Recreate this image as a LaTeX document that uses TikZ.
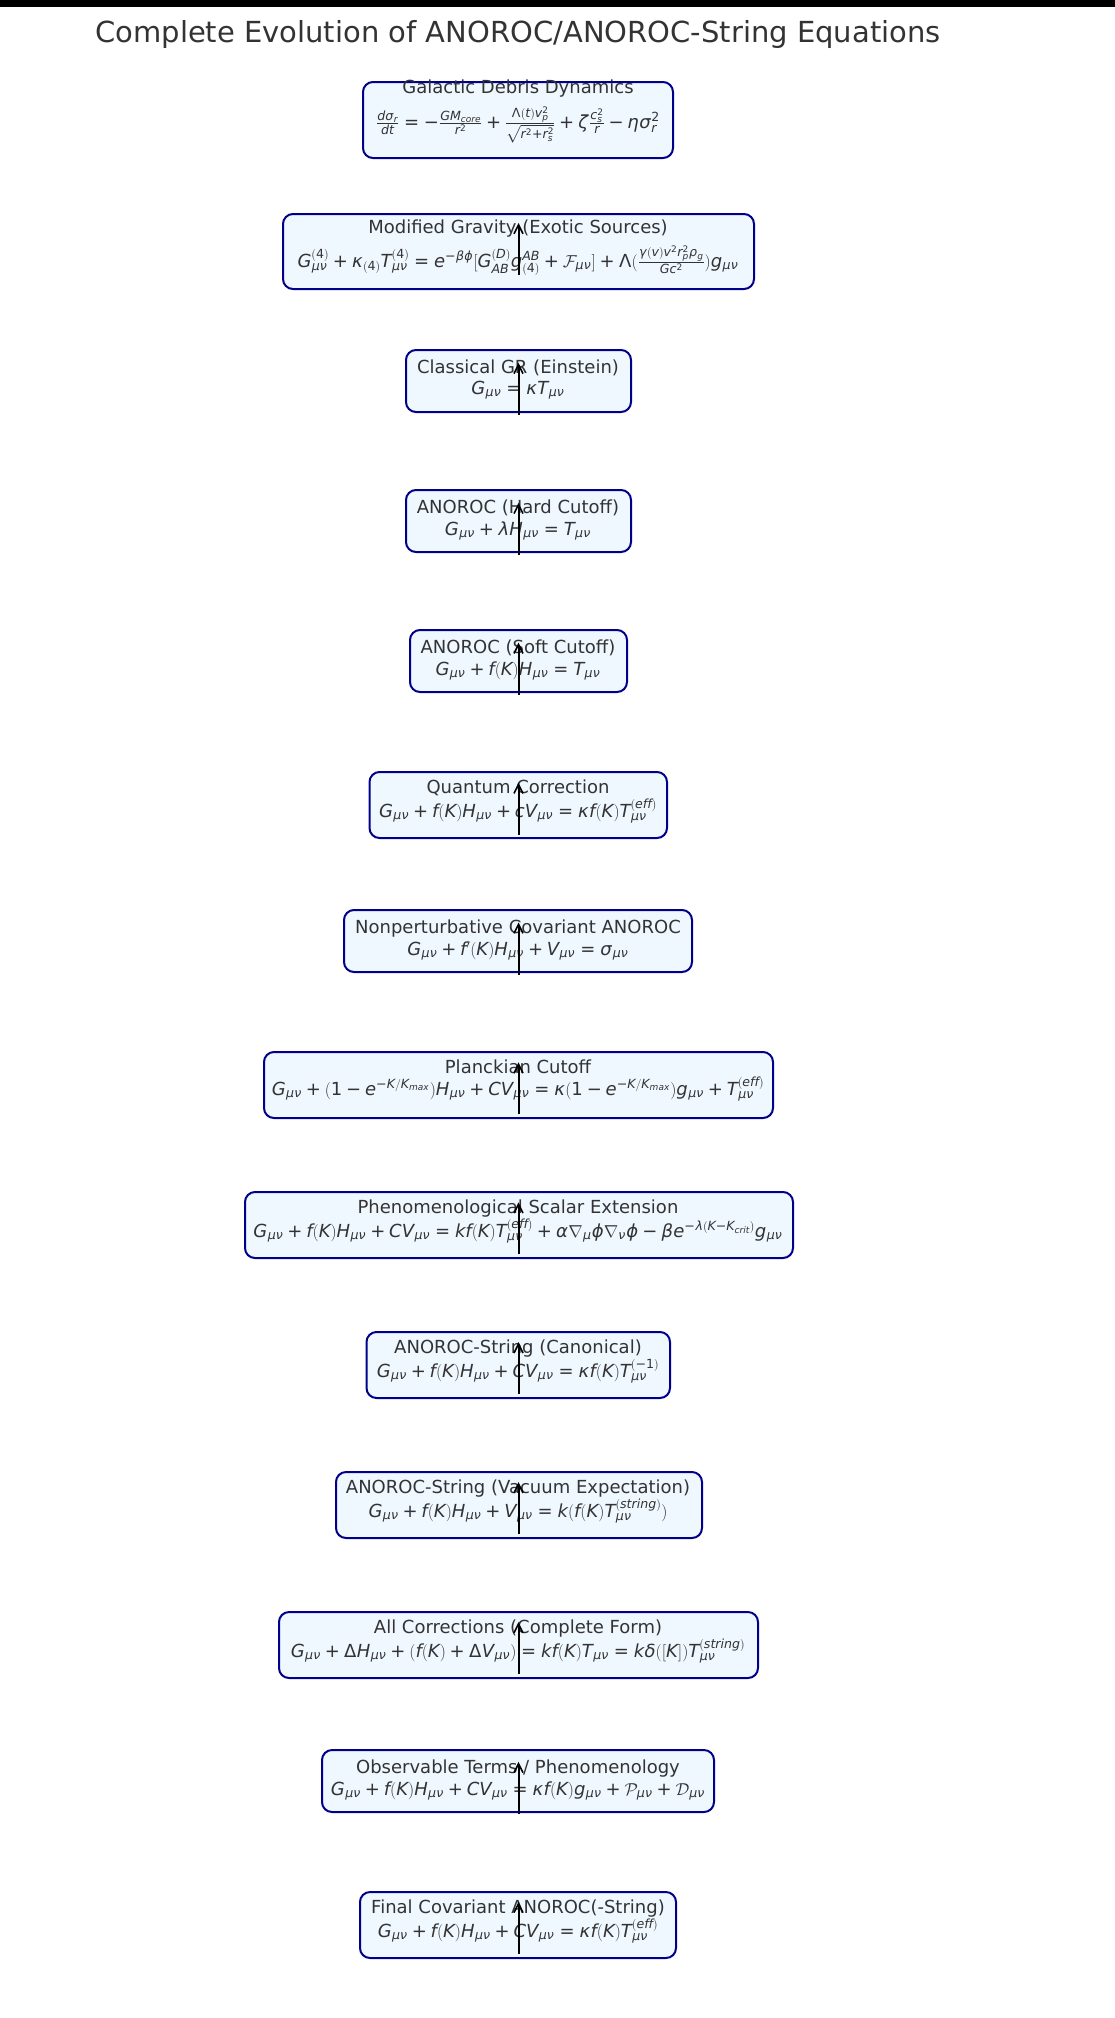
\documentclass[tikz,border=0pt]{standalone}
\usepackage{amsmath}
\usepackage{mathspec}
\setmainfont{DejaVu Sans}
\setmathsfont(Digits,Latin,Greek,Symbols){DejaVu Sans}
\usetikzlibrary{arrows.meta}

% operators in formulas taken from the sans text font
\begingroup
\lccode`\~=`\+ \lowercase{\endgroup\def~{\mathbin{\text{+}}}}
\begingroup
\lccode`\~=`\= \lowercase{\endgroup\def~{\mathrel{\text{=}}}}
\begingroup
\lccode`\~=`\- \lowercase{\endgroup\def~{\mathbin{\text{−}}}}
\AtBeginDocument{\mathcode`\+="8000 \mathcode`\=="8000 \mathcode`\-="8000 }

\definecolor{boxfill}{HTML}{F0F8FF}
\definecolor{boxline}{HTML}{00008B}
\definecolor{ink}{HTML}{333333}

\tikzset{
  eqbox/.style={draw=boxline, fill=boxfill, line width=2pt, rounded corners=10pt, inner sep=0pt},
  stagetitle/.style={anchor=base, text=ink, inner sep=0pt, font=\fontsize{18}{22}\selectfont},
  stageeq/.style={stagetitle},
  flow/.style={-{Straight Barb[length=9pt,width=9pt,line width=1.6pt]}, line width=2pt, black}
}

\begin{document}
\begin{tikzpicture}[x=1pt, y=-1pt]
\useasboundingbox (0,0) rectangle (1115,2018);
\fill[black] (0,0) rectangle (1115,7);

\node[anchor=base, text=ink, inner sep=0pt, font=\fontsize{29}{35}\selectfont] (heading) at (518,43)
  {Complete Evolution of ANOROC/ANOROC-String Equations};

% stage boxes, top to bottom
\node[eqbox, minimum width=310pt,   minimum height=76pt] (b1)  at (518,120)    {};
\node[eqbox, minimum width=471pt,   minimum height=75pt] (b2)  at (518.5,251.5) {};
\node[eqbox, minimum width=225pt,   minimum height=62pt] (b3)  at (518.5,381)  {};
\node[eqbox, minimum width=225pt,   minimum height=62pt] (b4)  at (518.5,521)  {};
\node[eqbox, minimum width=217pt,   minimum height=62pt] (b5)  at (518.5,661)  {};
\node[eqbox, minimum width=297.5pt, minimum height=66pt] (b6)  at (518.25,805) {};
\node[eqbox, minimum width=348pt,   minimum height=62pt] (b7)  at (518,941)    {};
\node[eqbox, minimum width=509pt,   minimum height=66pt] (b8)  at (518.5,1085) {};
\node[eqbox, minimum width=548pt,   minimum height=66pt] (b9)  at (519,1225)   {};
\node[eqbox, minimum width=303.5pt, minimum height=66pt] (b10) at (518.25,1365) {};
\node[eqbox, minimum width=366pt,   minimum height=66pt] (b11) at (519,1505)   {};
\node[eqbox, minimum width=479pt,   minimum height=66pt] (b12) at (518.5,1645) {};
\node[eqbox, minimum width=392pt,   minimum height=62pt] (b13) at (518,1781)   {};
\node[eqbox, minimum width=316pt,   minimum height=66pt] (b14) at (518,1925)   {};

% titles
\node[stagetitle] (t1)  at (518,93)   {Galactic Debris Dynamics};
\node[stagetitle] (t2)  at (518,233)  {Modified Gravity (Exotic Sources)};
\node[stagetitle] (t3)  at (518,373)  {Classical GR (Einstein)};
\node[stagetitle] (t4)  at (518,513)  {ANOROC (Hard Cutoff)};
\node[stagetitle] (t5)  at (518,653)  {ANOROC (Soft Cutoff)};
\node[stagetitle] (t6)  at (518,793)  {Quantum Correction};
\node[stagetitle] (t7)  at (518,933)  {Nonperturbative Covariant ANOROC};
\node[stagetitle] (t8)  at (518,1073) {Planckian Cutoff};
\node[stagetitle] (t9)  at (518,1213) {Phenomenological Scalar Extension};
\node[stagetitle] (t10) at (518,1353) {ANOROC-String (Canonical)};
\node[stagetitle] (t11) at (518,1493) {ANOROC-String (Vacuum Expectation)};
\node[stagetitle] (t12) at (518,1633) {All Corrections (Complete Form)};
\node[stagetitle] (t13) at (518,1773) {Observable Terms / Phenomenology};
\node[stagetitle] (t14) at (518,1913) {Final Covariant ANOROC(-String)};

% equations
\node[stageeq] (e1) at (518,128)
  {$\frac{d\sigma_r}{dt} = -\frac{GM_{core}}{r^2} + \frac{\Lambda(t)v_p^2}{\sqrt{r^2+r_s^2}} + \zeta\frac{c_s^2}{r} - \eta\sigma_r^2$};
\node[stageeq] (e2) at (518,267)
  {$G^{(4)}_{\mu\nu} + \kappa_{(4)}T^{(4)}_{\mu\nu} = e^{-\beta\varphi}[G^{(D)}_{AB}g^{AB}_{(4)} + \mathcal{F}_{\mu\nu}] + \Lambda(\frac{\gamma(v)v^2r_p^2\rho_g}{Gc^2})g_{\mu\nu}$};
\node[stageeq] (e3) at (518,394)
  {$G_{\mu\nu} = \kappa T_{\mu\nu}$};
\node[stageeq] (e4) at (518,535)
  {$G_{\mu\nu} + \lambda H_{\mu\nu} = T_{\mu\nu}$};
\node[stageeq] (e5) at (518,675)
  {$G_{\mu\nu} + f(K)H_{\mu\nu} = T_{\mu\nu}$};
\node[stageeq] (e6) at (518,817)
  {$G_{\mu\nu} + f(K)H_{\mu\nu} + cV_{\mu\nu} = \kappa f(K)T^{(eff)}_{\mu\nu}$};
\node[stageeq] (e7) at (518,955)
  {$G_{\mu\nu} + f'(K)H_{\mu\nu} + V_{\mu\nu} = \sigma_{\mu\nu}$};
\node[stageeq] (e8) at (518,1095)
  {$G_{\mu\nu} + (1 - e^{-K/K_{max}})H_{\mu\nu} + CV_{\mu\nu} = \kappa(1 - e^{-K/K_{max}})g_{\mu\nu} + T^{(eff)}_{\mu\nu}$};
\node[stageeq] (e9) at (518,1237)
  {$G_{\mu\nu} + f(K)H_{\mu\nu} + CV_{\mu\nu} = kf(K)T^{(eff)}_{\mu\nu} + \alpha\nabla_{\mu}\varphi\nabla_{\nu}\varphi - \beta e^{-\lambda(K - K_{crit})}g_{\mu\nu}$};
\node[stageeq] (e10) at (518,1377)
  {$G_{\mu\nu} + f(K)H_{\mu\nu} + CV_{\mu\nu} = \kappa f(K)T^{(-1)}_{\mu\nu}$};
\node[stageeq] (e11) at (518,1517)
  {$G_{\mu\nu} + f(K)H_{\mu\nu} + V_{\mu\nu} = k(f(K)T^{(string)}_{\mu\nu})$};
\node[stageeq] (e12) at (518,1657)
  {$G_{\mu\nu} + \Delta H_{\mu\nu} + (f(K) + \Delta V_{\mu\nu}) = kf(K)T_{\mu\nu} = k\delta([K])T^{(string)}_{\mu\nu}$};
\node[stageeq] (e13) at (518,1795)
  {$G_{\mu\nu} + f(K)H_{\mu\nu} + CV_{\mu\nu} = \kappa f(K)g_{\mu\nu} + \mathcal{P}_{\mu\nu} + \mathcal{D}_{\mu\nu}$};
\node[stageeq] (e14) at (518,1937)
  {$G_{\mu\nu} + f(K)H_{\mu\nu} + CV_{\mu\nu} = \kappa f(K)T^{(eff)}_{\mu\nu}$};

% upward flow arrows, one per stage from the second on
\foreach \k in {2,...,14} {
  \coordinate (s\k) at (518.5, {275 + 139.9*(\k-2)});
  \coordinate (h\k) at (518.5, {223 + 139.9*(\k-2)});
  \draw[flow] (s\k) -- (h\k);
}
\end{tikzpicture}
\end{document}
